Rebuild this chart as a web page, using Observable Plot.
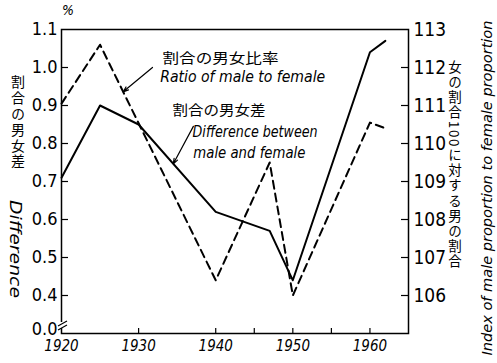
<!DOCTYPE html>
<html>
<head>
<meta charset="utf-8">
<script src="https://cdn.jsdelivr.net/npm/d3@7"></script>
<script src="https://cdn.jsdelivr.net/npm/@observablehq/plot@0.6"></script>
<style>
  body { margin: 0; background: #fff; }
  #chart svg { display: block; }
</style>
</head>
<body>
<div id="chart"></div>
<script>
// Difference between male and female proportion (%), left axis
const diffYears  = [1920, 1925, 1930, 1940, 1947, 1950, 1960, 1962];
const diffValues = [0.71, 0.90, 0.85, 0.62, 0.57, 0.44, 1.04, 1.07];

// Index of male proportion per 100 female proportion, right axis
const ratioYears  = [1920, 1925, 1940, 1947, 1950, 1960, 1962];
const ratioValues = [111.05, 112.6, 106.4, 109.5, 106.0, 110.55, 110.4];

// Axis ticks and labels (the lowest left tick sits at the axis break and reads 0.0)
const leftTicks       = [0.3, 0.4, 0.5, 0.6, 0.7, 0.8, 0.9, 1.0, 1.1];
const leftTickLabels  = ["0.0", "0.4", "0.5", "0.6", "0.7", "0.8", "0.9", "1.0", "1.1"];
const rightTicks      = [106, 107, 108, 109, 110, 111, 112, 113];
const xTickMarks      = [1930, 1940, 1945, 1950, 1955, 1960];
const xTickLabels     = [1920, 1930, 1940, 1950, 1960];

// Texts
const unitLabel   = "%";
const leftTitleJa = "割合の男女差";
const leftTitleEn = "Difference";
const rightTitleJa = "女の割合100に対する男の割合";
const rightTitleEn = "Index of male proportion to female proportion";
const ratioNameJa = "割合の男女比率";
const ratioNameEn = "Ratio of male to female";
const diffNameJa  = "割合の男女差";
const diffNameEn  = ["Difference between", "male and female"];

// The ratio index shares the frame with the difference: 113 ↔ 1.1, 106 ↔ 0.4
const ratioToLeft = r => (r - 102) / 10;
const leftToRatio = v => Math.round(102 + v * 10);

const diffData  = diffYears.map((year, i) => ({year, value: diffValues[i]}));
const ratioData = ratioYears.map((year, i) => ({year, value: ratioToLeft(ratioValues[i])}));

// point on a series at a given year (for callout arrow tips)
function along(data, year) {
  for (let i = 1; i < data.length; i++) {
    const a = data[i - 1], b = data[i];
    if (year >= a.year && year <= b.year) {
      const t = (year - a.year) / (b.year - a.year);
      return a.value + t * (b.value - a.value);
    }
  }
  return data[data.length - 1].value;
}

const ratioCallout = {x1: 1931.8, y1: 1.0, x2: 1928.0, y2: along(ratioData, 1928.0)};
const diffCallout  = {x1: 1937.1, y1: 0.845, x2: 1934.5, y2: along(diffData, 1934.5)};

const labelMap = new Map(leftTicks.map((t, i) => [t, leftTickLabels[i]]));

const narrow = "'Liberation Sans Narrow','DejaVu Sans Condensed',sans-serif";
const cjk = "'Noto Sans CJK JP',sans-serif";

const W = 497, H = 363;
const mL = 61, mR = 89, mT = 29, mB = 30;
const frameW = W - mL - mR, frameH = H - mT - mB;

const chart = Plot.plot({
  width: W,
  height: H,
  marginLeft: mL,
  marginRight: mR,
  marginTop: mT,
  marginBottom: mB,
  style: {background: "#fff", color: "#000", fontFamily: narrow},
  x: {domain: [1920, 1965]},
  y: {domain: [0.3, 1.1]},
  marks: [
    // tick labels
    Plot.axisY(leftTicks.slice(1), {anchor: "left", tickSize: 0, tickPadding: 4, tickFormat: d => labelMap.get(d), label: null, fontSize: 18}),
    Plot.axisY(leftTicks.slice(0, 1), {anchor: "left", tickSize: 0, tickPadding: 4, dy: -4, tickFormat: d => labelMap.get(d), label: null, fontSize: 18}),
    Plot.axisY(rightTicks.map(ratioToLeft), {anchor: "right", tickSize: 0, tickPadding: 5, tickFormat: leftToRatio, label: null, fontSize: 19}),
    Plot.axisX(xTickLabels, {anchor: "bottom", tickSize: 0, tickPadding: 7, tickFormat: d => String(d), label: null, fontSize: 15, fontStyle: "italic"}),
    // inward tick marks
    Plot.tickY(leftTicks.slice(1, -1), {y: d => d, insetRight: frameW - 7, strokeWidth: 1.2}),
    Plot.tickY(rightTicks.slice(0, -1).map(ratioToLeft), {y: d => d, insetLeft: frameW - 7, strokeWidth: 1.2}),
    Plot.tickX(xTickMarks, {x: d => d, insetTop: frameH - 5, strokeWidth: 1.2}),
    // series
    Plot.line(ratioData, {x: "year", y: "value", strokeWidth: 2, strokeDasharray: "8,5"}),
    Plot.line(diffData, {x: "year", y: "value", strokeWidth: 2}),
    // callouts
    Plot.arrow([ratioCallout, diffCallout], {x1: "x1", y1: "y1", x2: "x2", y2: "y2", strokeWidth: 1.2, headLength: 7, headAngle: 40}),
    Plot.text([ratioNameJa], {x: 1933.1, y: 1.024, text: d => d, textAnchor: "start", fontSize: 14, fontFamily: cjk}),
    Plot.text([ratioNameEn], {x: 1932.8, y: 0.974, text: d => d, textAnchor: "start", fontSize: 15, fontStyle: "italic"}),
    Plot.text([diffNameJa], {x: 1934.4, y: 0.887, text: d => d, textAnchor: "start", fontSize: 14, fontFamily: cjk}),
    Plot.text([diffNameEn[0]], {x: 1937.0, y: 0.829, text: d => d, textAnchor: "start", fontSize: 15, fontStyle: "italic"}),
    Plot.text([diffNameEn[1]], {x: 1937.1, y: 0.774, text: d => d, textAnchor: "start", fontSize: 15, fontStyle: "italic"}),
    Plot.frame({strokeWidth: 1.5})
  ]
});

document.getElementById("chart").appendChild(chart);

const svg = d3.select(chart);
const y = chart.scale("y");

// stretch the hand-lettered texts to their widths
const fits = new Map([
  [ratioNameJa, 116], [ratioNameEn, 165], [diffNameJa, 93],
  [diffNameEn[0], 125], [diffNameEn[1], 112]
]);
svg.selectAll("text").each(function () {
  const t = this.textContent;
  if (fits.has(t)) d3.select(this).attr("textLength", fits.get(t)).attr("lengthAdjust", "spacingAndGlyphs");
});

// axis break near the bottom of the left axis
const yb = y.apply(0.3) - 8;
svg.append("rect").attr("x", mL - 2).attr("y", yb - 3).attr("width", 4).attr("height", 6).attr("fill", "#fff");
svg.append("path")
  .attr("d", `M${mL - 3},${yb + 1} L${mL + 6},${yb - 4} M${mL - 3},${yb + 5} L${mL + 6},${yb}`)
  .attr("stroke", "#000").attr("stroke-width", 1.2).attr("fill", "none");

// unit
svg.append("text").attr("x", 68).attr("y", 15).attr("text-anchor", "middle")
  .attr("font-size", 14).attr("font-style", "italic").attr("font-family", narrow).text(unitLabel);

// left titles
svg.append("text").attr("x", 18).attr("y", 75).attr("text-anchor", "start")
  .style("writing-mode", "vertical-rl").attr("font-size", 14).attr("font-family", cjk)
  .attr("textLength", 93).attr("lengthAdjust", "spacing").text(leftTitleJa);
svg.append("text").attr("transform", "translate(15,249) rotate(90)").attr("text-anchor", "middle")
  .attr("dominant-baseline", "central").attr("font-size", 16).attr("font-style", "italic")
  .attr("font-family", narrow).attr("textLength", 98).attr("lengthAdjust", "spacingAndGlyphs").text(leftTitleEn);

// right titles
svg.append("text").attr("x", 455).attr("y", 60).attr("text-anchor", "start")
  .style("writing-mode", "vertical-rl").attr("font-size", 13.5).attr("font-family", cjk)
  .attr("textLength", 208).attr("lengthAdjust", "spacing").text(rightTitleJa);
svg.append("text").attr("transform", "translate(487,188) rotate(-90)").attr("text-anchor", "middle")
  .attr("dominant-baseline", "central").attr("font-size", 14).attr("font-style", "italic")
  .attr("font-family", narrow).attr("textLength", 335).attr("lengthAdjust", "spacingAndGlyphs").text(rightTitleEn);
</script>
</body>
</html>
